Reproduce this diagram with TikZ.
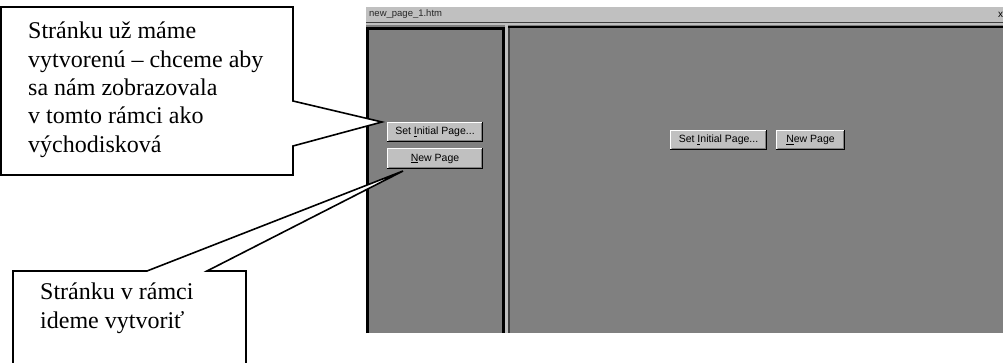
\documentclass[tikz,border=0pt]{standalone}
\usepackage{fontspec}
\setmainfont{Liberation Serif}
\setsansfont{Liberation Sans}
\definecolor{winlight}{HTML}{C0C0C0}
\definecolor{wingray}{HTML}{808080}
\definecolor{windark}{HTML}{404040}
\tikzset{
  callout/.style={draw=black, line width=1.6pt, fill=white, line join=miter},
  calltext/.style={font=\fontsize{24}{28.3}\selectfont\rmfamily, align=left, inner sep=0pt, anchor=north west, text=black},
  btntext/.style={font=\fontsize{10.5}{12}\selectfont\sffamily, text=black, inner sep=0pt},
}
\newcommand{\winbutton}[5]{% name, x1, y1, x2, y2
  \fill[winlight] (#2,#3) rectangle (#4,#5);
  \draw[white, line width=1pt] (#2+0.5,#5-1) -- (#2+0.5,#3+0.5) -- (#4-1,#3+0.5);
  \draw[black, line width=1pt] (#2,#5-0.5) -- (#4-0.5,#5-0.5) -- (#4-0.5,#3);
  \draw[wingray, line width=1pt] (#2+1.5,#5-1.5) -- (#4-1.5,#5-1.5) -- (#4-1.5,#3+1.5);
  \coordinate (#1) at ({(#2+#4)/2},{(#3+#5)/2});
}
\begin{document}
\begin{tikzpicture}[x=1pt,y=-1pt]
\useasboundingbox (0,0) rectangle (1003,363);
% window
\fill[winlight] (366,7) rectangle (1003,22);
\node[anchor=west, inner sep=0pt, font=\fontsize{9.5}{11}\selectfont\sffamily, text=black!85] (title) at (369,14.5) {new\_page\_1.htm};
\node[anchor=west, inner sep=0pt, font=\fontsize{10}{11}\selectfont\sffamily] (closex) at (998,14.5) {x};
\fill[wingray] (366,22) rectangle (1003,333);
\draw[windark, line width=1pt] (366,22.5) -- (1003,22.5);
\draw[winlight, line width=2pt] (366,24.5) -- (1003,24.5);
\draw[black, line width=1.5pt] (505,27) -- (1003,27);
% left pane border
\draw[black, line width=3pt] (367.5,333) -- (367.5,28.5) -- (503.5,28.5) -- (503.5,333);
% divider
\fill[winlight] (505,25) rectangle (508,333);
\fill[windark] (508,28) rectangle (509.5,333);
% left buttons
\winbutton{lb1}{387}{122}{483}{142}
\node[btntext] (lb1t) at (lb1) {Set \underline{I}nitial Page...};
\winbutton{lb2}{387}{148}{483}{169}
\node[btntext] (lb2t) at (lb2) {\underline{N}ew Page};
% right buttons
\winbutton{rb1}{670}{130}{767}{150}
\node[btntext] (rb1t) at (rb1) {Set \underline{I}nitial Page...};
\winbutton{rb2}{776}{130}{845}{150}
\node[btntext] (rb2t) at (rb2) {\underline{N}ew Page};
% callout 1
\coordinate (tip1) at (382,122);
\draw[callout] (1,7) -- (293,7) -- (293,101) -- (tip1) -- (293,146) -- (293,175) -- (1,175) -- cycle;
\node[calltext] (c1) at (28,22) {Stránku už máme\\vytvorenú – chceme aby\\sa nám zobrazovala\\v tomto rámci ako\\východisková};
% callout 2
\coordinate (tip2) at (403,171);
\draw[callout] (13,370) -- (13,271) -- (147,271) -- (tip2) -- (207,271) -- (246,271) -- (246,370);
\node[calltext] (c2) at (40,283) {Stránku v rámci\\ideme vytvoriť};
\end{tikzpicture}
\end{document}
